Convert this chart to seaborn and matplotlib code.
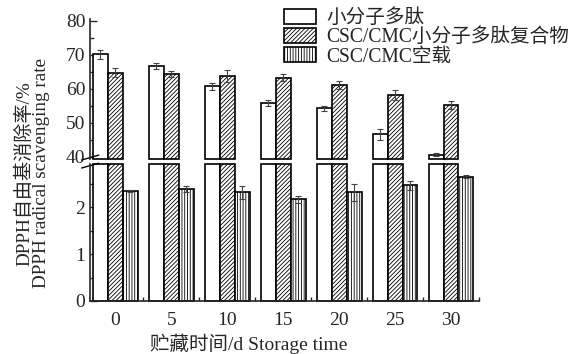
import matplotlib
matplotlib.use("Agg")
import matplotlib.pyplot as plt
import seaborn as sns
import pandas as pd
from matplotlib.patches import Patch
from matplotlib.ticker import MultipleLocator

# data
days = ["0", "5", "10", "15", "20", "25", "30"]
series = ["小分子多肽", "CSC/CMC小分子多肽复合物", "CSC/CMC空载"]
peptide = [70.2, 66.7, 60.8, 55.9, 54.3, 46.6, 40.7]
peptide_err = [1.3, 1.0, 1.0, 0.9, 0.8, 1.5, 0.5]
complex_pep = [64.8, 64.3, 63.8, 63.3, 61.2, 58.3, 55.3]
complex_err = [1.4, 0.9, 1.8, 1.0, 1.2, 1.5, 1.2]
blank = [2.35, 2.39, 2.32, 2.17, 2.32, 2.47, 2.66]
blank_err = [0.03, 0.07, 0.13, 0.07, 0.18, 0.10, 0.04]

df = pd.DataFrame({
    "day": days * 3,
    "group": [series[0]] * 7 + [series[1]] * 7 + [series[2]] * 7,
    "value": peptide + complex_pep + blank,
    "err": peptide_err + complex_err + blank_err,
})

sns.set_style("ticks")
plt.rcParams["font.family"] = ["Liberation Serif", "Noto Sans CJK SC"]
plt.rcParams["hatch.linewidth"] = 0.6
plt.rcParams["axes.linewidth"] = 1.2

fig = plt.figure(figsize=(5.82, 3.54), dpi=100)
ax_top = fig.add_axes([0.155, 0.55, 0.668, 0.396])
ax_bot = fig.add_axes([0.155, 0.150, 0.668, 0.387])

top_lim = (39.3, 80.5)
bot_lim = (0, 2.93)
hatches = ["", "////////", "||||||"]

for ax, lim in [(ax_top, top_lim), (ax_bot, bot_lim)]:
    sns.barplot(data=df, x="day", y="value", hue="group", hue_order=series,
                order=days, ax=ax, errorbar=None, legend=False,
                edgecolor="black", linewidth=1.2, width=0.8)
    bar_groups = list(ax.containers)
    for i, bars in enumerate(bar_groups):
        sub = df[df["group"] == series[i]]
        xs, ys, es = [], [], []
        for p, v, e in zip(bars.patches, sub["value"], sub["err"]):
            p.set_facecolor("white")
            p.set_hatch(hatches[i])
            p.set_edgecolor("black")
            if v < lim[0]:
                p.set_visible(False)
                continue
            p.set_y(lim[0])
            p.set_height(min(v, lim[1]) - lim[0])
            p.set_clip_on(False)
            if v < lim[1]:
                xs.append(p.get_x() + p.get_width() / 2)
                ys.append(v)
                es.append(e)
        if xs:
            ax.errorbar(xs, ys, yerr=es, fmt="none", ecolor="#444444",
                        elinewidth=0.8, capsize=2.5, capthick=0.8, zorder=5)
    ax.set_ylim(*lim)
    ax.set_xlim(-0.45, 6.5)
    ax.set_xlabel("")
    ax.set_ylabel("")
    ax.tick_params(axis="both", direction="in", labelsize=14, width=1.0)
    ax.tick_params(axis="y", which="major", length=5)
    ax.tick_params(axis="y", which="minor", direction="in", length=3, width=1.0)

# top panel
ax_top.set_yticks([40, 50, 60, 70, 80])
ax_top.yaxis.set_minor_locator(MultipleLocator(5))
for s in ["top", "right", "bottom"]:
    ax_top.spines[s].set_visible(False)
ax_top.tick_params(axis="x", bottom=False, labelbottom=False)

# bottom panel
ax_bot.set_yticks([0, 1, 2])
ax_bot.yaxis.set_minor_locator(MultipleLocator(0.5))
for s in ["top", "right"]:
    ax_bot.spines[s].set_visible(False)
ax_bot.set_xticks(range(7))
ax_bot.set_xticklabels(days)
ax_bot.set_xticks([i + 0.5 for i in range(7)], minor=True)
ax_bot.tick_params(axis="x", which="major", length=3, pad=8)
ax_bot.tick_params(axis="x", which="minor", direction="in", length=3, width=1.0)

# break marks
kw = dict(color="black", lw=1.0, clip_on=False)
ax_top.plot([-0.022, 0.022], [-0.005, 0.03], transform=ax_top.transAxes, **kw)
ax_bot.plot([-0.022, 0.022], [0.97, 1.005], transform=ax_bot.transAxes, **kw)

fig.text(0.056, 0.51, "DPPH自由基消除率/%\nDPPH radical scavenging rate",
         rotation=90, ha="center", va="center", fontsize=13.8, linespacing=1.0,
         multialignment="center")
fig.text(0.428, 0.028, "贮藏时间/d Storage time", ha="center", va="center",
         fontsize=14)

handles = [Patch(facecolor="white", edgecolor="black", hatch=h, linewidth=1.2)
           for h in hatches]
fig.legend(handles, series, loc="upper left", bbox_to_anchor=(0.488, 0.975),
           frameon=False, fontsize=14.1, handlelength=1.65, handleheight=0.78,
           labelspacing=0.0, handletextpad=0.5, borderpad=0, borderaxespad=0)

fig.savefig("out.png", dpi=100)
